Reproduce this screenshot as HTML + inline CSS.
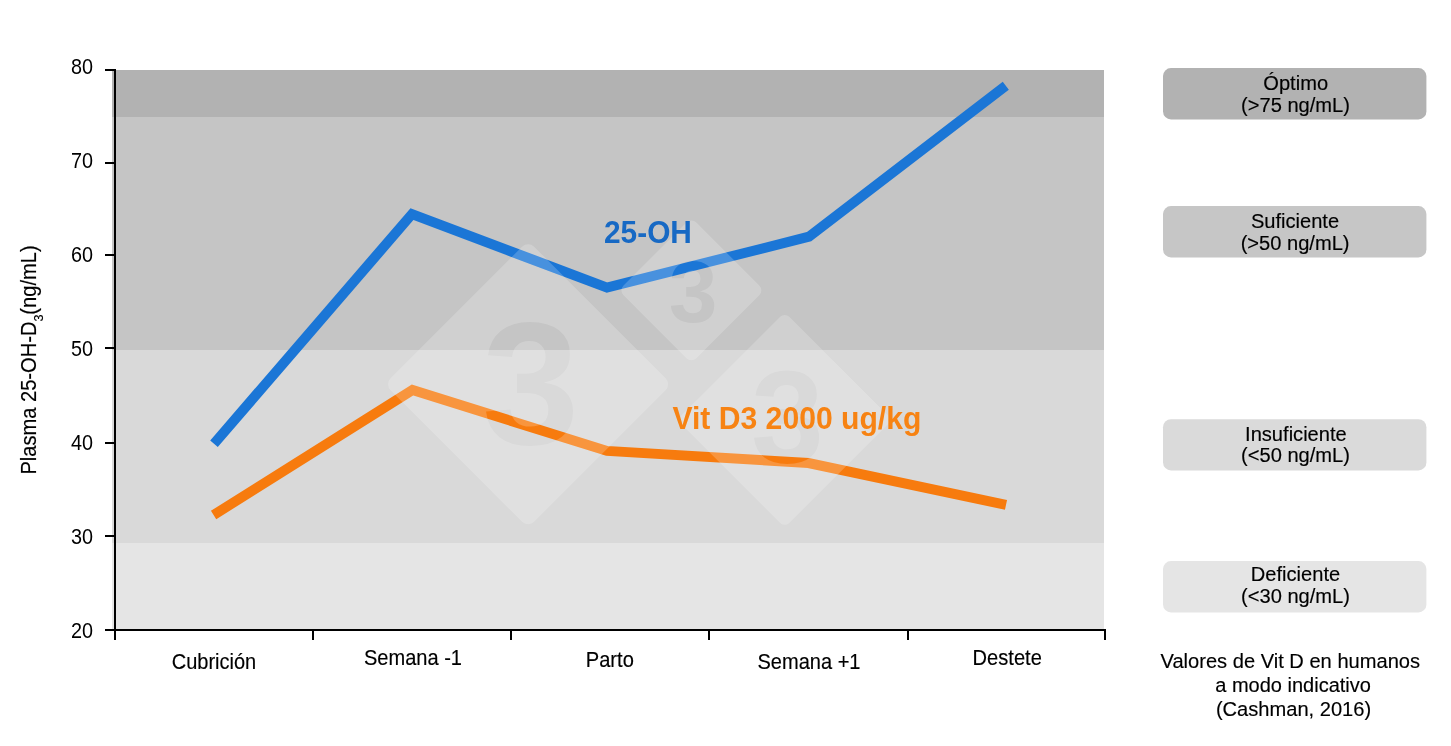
<!DOCTYPE html>
<html lang="es">
<head>
<meta charset="utf-8">
<title>Plasma 25-OH-D3</title>
<style>
html,body{margin:0;padding:0;background:#fff;}
body{width:1451px;height:746px;overflow:hidden;}
svg{display:block;font-family:"Liberation Sans",Arial,sans-serif;}
.t{font-size:20.1px;fill:#000;stroke:#000;stroke-width:0.15px;}
.m{text-anchor:middle;}
.e{text-anchor:end;}
</style>
</head>
<body>
<svg width="1451" height="746" viewBox="0 0 1451 746">
<defs>
<mask id="wm" maskUnits="userSpaceOnUse" x="0" y="0" width="1451" height="746">
<rect x="0" y="0" width="1451" height="746" fill="#000"/>
<g fill="#fff">
<rect x="-101.5" y="-101.5" width="203" height="203" rx="8.5" transform="translate(528.1,384.2) rotate(45)"/>
<rect x="-51.5" y="-51.5" width="103" height="103" rx="7" transform="translate(691.4,290.4) rotate(45)"/>
<rect x="-76.1" y="-76.1" width="152.2" height="152.2" rx="6.4" transform="translate(784.7,419.9) rotate(45)"/>
</g>
<g fill="#000" font-weight="bold" text-anchor="middle">
<text x="530.7" y="444.2" font-size="175">3</text>
<text x="693" y="321.5" font-size="87.5">3</text>
<text x="787.5" y="462.6" font-size="131">3</text>
</g>
</mask>
</defs>
<!-- bands -->
<rect x="112" y="70" width="992" height="47" fill="#b2b2b2"/>
<rect x="112" y="117" width="992" height="233" fill="#c5c5c5"/>
<rect x="112" y="350" width="992" height="193" fill="#d9d9d9"/>
<rect x="112" y="543" width="992" height="86" fill="#e5e5e5"/>
<!-- lines -->
<polyline points="214,443.7 412,214.1 607,287.6 809,236.7 1005.8,85.8" fill="none" stroke="#1b76d6" stroke-width="10" stroke-linejoin="miter" stroke-miterlimit="10"/>
<polyline points="213.6,515 412.5,390 607,450.9 808.5,463 1006,504.8" fill="none" stroke="#f77b0e" stroke-width="10" stroke-linejoin="miter" stroke-miterlimit="10"/>
<!-- watermark -->
<rect x="350" y="200" width="580" height="360" fill="#fff" fill-opacity="0.2" mask="url(#wm)"/>
<!-- axes -->
<g fill="#000">
<rect x="114" y="69" width="2" height="571"/>
<rect x="105" y="629" width="1001" height="2"/>
<rect x="105" y="69" width="10" height="2"/>
<rect x="105" y="162" width="10" height="2"/>
<rect x="105" y="254" width="10" height="2"/>
<rect x="105" y="347" width="10" height="2"/>
<rect x="105" y="442" width="10" height="2"/>
<rect x="105" y="535" width="10" height="2"/>
<rect x="312" y="630" width="2" height="10"/>
<rect x="510" y="630" width="2" height="10"/>
<rect x="708" y="630" width="2" height="10"/>
<rect x="907" y="630" width="2" height="10"/>
<rect x="1104" y="630" width="2" height="10"/>
</g>
<!-- y labels -->
<g class="t e" style="stroke:none">
<text transform="translate(93.1,73.7) scale(0.987,1.077)">80</text>
<text transform="translate(93.1,167.7) scale(0.987,1.077)">70</text>
<text transform="translate(93.1,261.7) scale(0.987,1.077)">60</text>
<text transform="translate(93.1,355.7) scale(0.987,1.077)">50</text>
<text transform="translate(93.1,449.7) scale(0.987,1.077)">40</text>
<text transform="translate(93.1,543.7) scale(0.987,1.077)">30</text>
<text transform="translate(93.1,637.7) scale(0.987,1.077)">20</text>
</g>
<!-- y title -->
<text class="t" transform="translate(35.8,474.6) rotate(-90) scale(1,1.055)">Plasma 25-OH-D<tspan font-size="12.5" dy="7">3</tspan><tspan dy="-7">(ng/mL)</tspan></text>
<!-- x labels -->
<g class="t m">
<text transform="translate(214,669.1) scale(0.995,1.055)">Cubrición</text>
<text transform="translate(413,665) scale(0.997,1.055)">Semana -1</text>
<text transform="translate(609.8,666.8) scale(1,1.055)">Parto</text>
<text transform="translate(809,669) scale(0.997,1.055)">Semana +1</text>
<text transform="translate(1007.2,664.6) scale(1,1.055)">Destete</text>
</g>
<!-- series labels -->
<text transform="translate(604,243.1) scale(0.995,1.075)" font-size="30" font-weight="bold" fill="#1769c4">25-OH</text>
<text transform="translate(672.4,428.9) scale(1.005,1.016)" font-size="30" font-weight="bold" fill="#f78313">Vit D3 2000 ug/kg</text>
<!-- legend -->
<rect x="1163" y="68.1" width="263.4" height="51.3" rx="8" fill="#b2b2b2"/>
<rect x="1163" y="206.1" width="263.4" height="51.3" rx="8" fill="#c6c6c6"/>
<rect x="1163" y="419.2" width="263.4" height="51.2" rx="8" fill="#dadada"/>
<rect x="1163" y="561.1" width="263.4" height="51.3" rx="8" fill="#e5e5e5"/>
<g class="t m">
<text x="1295.7" y="90.2">Óptimo</text>
<text x="1295.5" y="112.1">(&gt;75 ng/mL)</text>
<text x="1295" y="228.2">Suficiente</text>
<text x="1295.1" y="249.6">(&gt;50 ng/mL)</text>
<text x="1295.9" y="440.5">Insuficiente</text>
<text x="1295.5" y="462.1">(&lt;50 ng/mL)</text>
<text x="1295.5" y="581">Deficiente</text>
<text x="1295.5" y="603.2">(&lt;30 ng/mL)</text>
<text x="1290.3" y="667.9">Valores de Vit D en humanos</text>
<text x="1293.1" y="692.2" style="font-size:20px">a modo indicativo</text>
<text x="1293.5" y="716">(Cashman, 2016)</text>
</g>
</svg>
</body>
</html>
